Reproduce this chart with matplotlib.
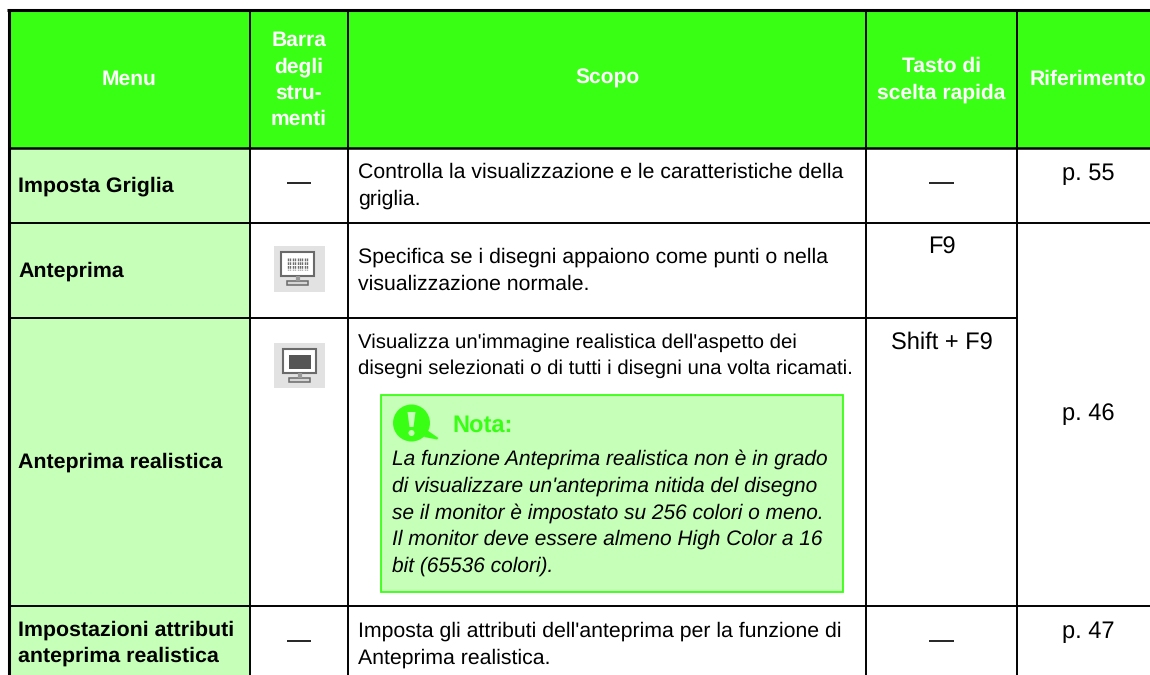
import matplotlib
matplotlib.use("Agg")
import matplotlib.pyplot as plt
from matplotlib.patches import Rectangle, Circle, Polygon

plt.rcParams['font.family'] = ['Liberation Sans', 'DejaVu Sans']
plt.rcParams['text.hinting'] = 'no_hinting'

headers = ["Menu", "Barra\ndegli\nstru-\nmenti", "Scopo", "Tasto di\nscelta rapida", "Riferimento"]
menu_items = ["Imposta Griglia", "Anteprima", "Anteprima realistica",
              "Impostazioni attributi\nanteprima realistica"]
toolbar = ["—", "icon_dots", "icon_real", "—"]
purpose = [
    "Controlla la visualizzazione e le caratteristiche della\ngriglia.",
    "Specifica se i disegni appaiono come punti o nella\nvisualizzazione normale.",
    "Visualizza un'immagine realistica dell'aspetto dei\ndisegni selezionati o di tutti i disegni una volta ricamati.",
    "Imposta gli attributi dell'anteprima per la funzione di\nAnteprima realistica.",
]
shortcuts = ["—", "F9", "Shift + F9", "—"]
references = ["p. 55", "p. 46", "p. 47"]
note_title = "Nota:"
note_lines = [
    "La funzione Anteprima realistica non è in grado",
    "di visualizzare un'anteprima nitida del disegno",
    "se il monitor è impostato su 256 colori o meno.",
    "Il monitor deve essere almeno High Color a 16",
    "bit (65536 colori).",
]

col_edges = [8.5, 250, 348, 866, 1017, 1150]
row_edges = [9.5, 148, 223, 318, 606, 675]

GREEN = "#39ff14"
PALE = "#c6ffb8"
INK = "#000000"
FS_HEAD = 15.1
FS_BOLD = 15.4
FS_BODY = [15.35, 15.35, 14.7, 15.35]
FS_CELL = 17

fig = plt.figure(figsize=(11.5, 6.75), dpi=100, facecolor="white")
ax = fig.add_axes([0, 0, 1, 1])
ax.set_xlim(0, 1150)
ax.set_ylim(675, 0)
ax.axis("off")

ax.add_patch(Rectangle((col_edges[0], row_edges[0]), col_edges[-1] - col_edges[0],
                       row_edges[1] - row_edges[0], fc=GREEN, ec="none"))
ax.add_patch(Rectangle((col_edges[0], row_edges[1]), col_edges[1] - col_edges[0],
                       row_edges[-1] - row_edges[1], fc=PALE, ec="none"))

# grid
for i, x in enumerate(col_edges[:-1]):
    ax.plot([x, x], [row_edges[0], 675], color="k", lw=2.2 if i == 0 else 1.4,
            solid_capstyle="butt")
ax.plot([col_edges[0] - 1.5, 1150], [row_edges[0]] * 2, color="k", lw=2.2, solid_capstyle="butt")
ax.plot([col_edges[0], 1150], [row_edges[1]] * 2, color="k", lw=1.8, solid_capstyle="butt")
for i, y in enumerate(row_edges[2:-1]):
    if i == 1:
        # the reference column spans rows 2 and 3
        ax.plot([col_edges[0], col_edges[4]], [y, y], color="k", lw=1.4, solid_capstyle="butt")
    else:
        ax.plot([col_edges[0], 1150], [y, y], color="k", lw=1.4, solid_capstyle="butt")

# headers
header_y = [79, 80, 78.5, 80, 79]
for j, h in enumerate(headers):
    cx = (col_edges[j] + col_edges[j + 1]) / 2
    if j == 4:
        cx = 1088
    ax.text(cx, header_y[j], h, color="white", fontweight="bold", fontsize=FS_HEAD,
            ha="center", va="center", linespacing=1.45)

purpose_y = [185.5, 271, 356, 645]
menu_y = [186.5, 271.5, 462, 643]
line_sp = [1.47, 1.47, 1.53, 1.47]
for i, m in enumerate(menu_items):
    ax.text(18, menu_y[i], m, color=INK, fontweight="bold", fontsize=FS_BOLD, ha="left",
            va="center", linespacing=1.42)
    ax.text(358, purpose_y[i], purpose[i], color=INK, fontsize=FS_BODY[i], ha="left", va="center",
            linespacing=line_sp[i])

# dashes
tb_cx = 299
sc_cx = 941.5
dash_y = [183, 0, 0, 640.7]
for i, (t, s) in enumerate(zip(toolbar, shortcuts)):
    if t == "—":
        ax.plot([tb_cx - 12, tb_cx + 12], [dash_y[i]] * 2, color="k", lw=1.2, solid_capstyle="butt")
    if s == "—":
        ax.plot([sc_cx - 12.5, sc_cx + 12.5], [dash_y[i]] * 2, color="k", lw=1.2, solid_capstyle="butt")
ax.text(941.5, 248, shortcuts[1], color=INK, fontsize=FS_CELL, ha="center", va="center")
ax.text(941.5, 343, shortcuts[2], color=INK, fontsize=FS_CELL, ha="center", va="center")


def monitor(top, bottom, shade, dx):
    ax.add_patch(Rectangle((274, top), 51, bottom - top, fc="#e2e2e2", ec="none"))
    ax.add_patch(Rectangle((281 + dx, top + 6), 33, 23.5, fc="white", ec="#6a6a6a", lw=1.5))
    ax.plot([297.5 + dx] * 2, [top + 29.5, top + 35], color="#999999", lw=3, solid_capstyle="butt")
    ax.add_patch(Rectangle((287 + dx, top + 35), 21, 3.5, fc="#d5d5d5", ec="#6a6a6a", lw=1.1))
    if shade:
        ax.add_patch(Rectangle((287 + dx, top + 12), 22, 14, fc="#555555", ec="none"))
    else:
        for k in range(9):
            ax.plot([288 + k * 2.4] * 2, [top + 12, top + 24], color="#707070", lw=1.0,
                    dashes=(2, 0.7))


monitor(246, 292, False, 0)
monitor(343, 388, True, 2)

# references
ref_y = [174, 414, 632]
for y, r in zip(ref_y, references):
    ax.text(1088.5, y, r, color=INK, fontsize=FS_CELL, ha="center", va="center")

# note box
ax.add_patch(Rectangle((380.5, 394.5), 462, 197, fc=PALE, ec=GREEN, lw=1.3))
ax.add_patch(Circle((411.5, 423), 18.5, fc=GREEN, ec="none"))
ax.add_patch(Polygon([(427, 430), (438.5, 438), (437, 439.5), (424, 437)], fc=GREEN, ec="none"))
ax.add_patch(Polygon([(407.5, 412), (415.5, 412), (413.5, 427), (409.5, 427)], fc=PALE, ec="none"))
ax.add_patch(Circle((411.5, 433), 3, fc=PALE, ec="none"))
ax.text(452, 425.5, note_title, color=GREEN, fontweight="bold", fontsize=17, ha="left", va="center")
note_y = [459.5, 486.5, 513.5, 539.5, 566.5]
for y, line in zip(note_y, note_lines):
    ax.text(392, y, line, color=INK, fontstyle="italic", fontsize=15.06,
            ha="left", va="center")

fig.savefig("out.png", dpi=100)
